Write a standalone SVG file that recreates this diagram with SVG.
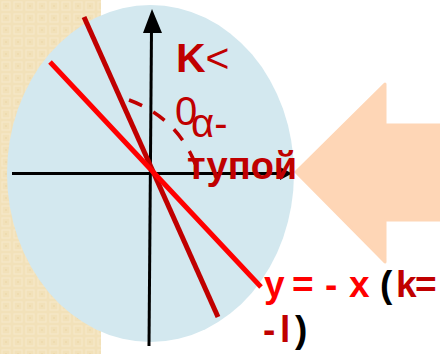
<svg xmlns="http://www.w3.org/2000/svg" width="440" height="354" viewBox="0 0 440 354">
  <style>
    .ax { stroke: #000; stroke-width: 3; fill: none; }
    .dr { stroke: #c00000; stroke-width: 5; fill: none; }
    .rd { stroke: #ff0000; stroke-width: 5; fill: none; }
    .t { font-family: "Liberation Sans", Arial, sans-serif; }
    .b { font-weight: bold; }
    .c1 { fill: #c00000; }
    .c2 { fill: #ff0000; }
    .c3 { fill: #000; }
  </style>
  <defs>
    <pattern id="tex" width="12" height="12" patternUnits="userSpaceOnUse">
      <rect width="12" height="12" fill="#f2e1b9"/>
      <rect x="2" y="2" width="8" height="8" fill="none" stroke="#f6e8c9" stroke-width="1.2"/>
      <rect x="5" y="5" width="2" height="2" fill="#eedbaf"/>
    </pattern>
  </defs>
  <rect width="440" height="354" fill="#fff"/>
  <rect width="101" height="354" fill="url(#tex)"/>
  <g id="ellipse">
    <ellipse cx="150.5" cy="173.5" rx="143.5" ry="168.5" fill="#d3e8ef"/>
  </g>
  <g id="arrow">
    <polygon points="296,172 385,84 385,125 440,125 440,220 385,220 385,262" fill="#fed6b6" stroke="#fed6b6" stroke-width="3" stroke-linejoin="round"/>
  </g>
  <g id="connectors">
    <line class="ax" x1="12" y1="173.5" x2="282" y2="173.5"/>
    <polygon points="292,173.5 280,167 280,180" fill="#000"/>
    <line class="ax" x1="151.5" y1="30" x2="149" y2="346"/>
    <polygon points="152,9 143,33 162,33" fill="#000"/>
    <line class="dr" x1="84" y1="17" x2="218" y2="317"/>
    <line class="rd" x1="50" y1="62" x2="261" y2="287"/>
    <path d="M129,100 Q178,118 196,166" fill="none" stroke="#c00000" stroke-width="3.5" stroke-dasharray="14 13"/>
  </g>
  <g id="labels">
    <text class="t c1" x="176" y="72" font-size="41"><tspan class="b">K</tspan><tspan>&lt;</tspan></text>
    <text class="t c1" x="175" y="125" font-size="40">0</text>
    <text class="t c1" x="191" y="137" font-size="40">α-</text>
    <text class="t b c1" x="187" y="179" font-size="38">тупой</text>
    <text class="t b" y="297" font-size="37"><tspan class="c2" x="264">y</tspan><tspan class="c2" x="292">=</tspan><tspan class="c2" x="325">-</tspan><tspan class="c2" x="349">x</tspan><tspan class="c3" x="380">(</tspan><tspan class="c1" x="396">k</tspan><tspan class="c1" x="415">=</tspan></text>
    <text class="t b" y="342" font-size="37"><tspan class="c1" x="263">-</tspan><tspan class="c1" x="280">l</tspan><tspan class="c3" x="295">)</tspan></text>
  </g>
</svg>
